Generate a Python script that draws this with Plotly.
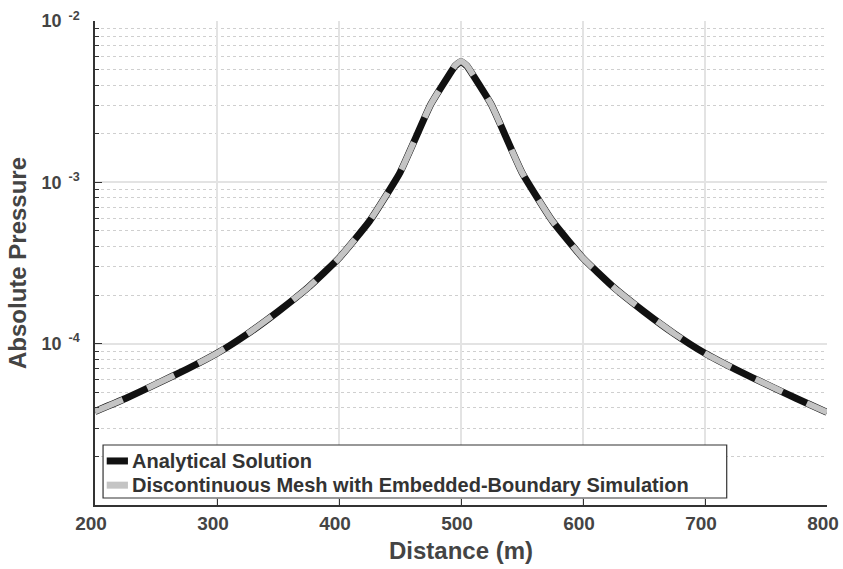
import plotly.graph_objects as go

distance = [200, 225, 250, 275, 300, 325, 350, 375, 400, 425, 450, 475, 490, 495, 500,
            505, 510, 525, 550, 575, 600, 625, 650, 675, 700, 725, 750, 775, 800]
analytical = [3.80e-5, 4.57e-5, 5.62e-5, 6.92e-5, 8.71e-5, 1.15e-4, 1.58e-4, 2.24e-4,
              3.39e-4, 5.75e-4, 1.15e-3, 3.02e-3, 4.60e-3, 5.25e-3, 5.62e-3,
              5.25e-3, 4.60e-3, 3.02e-3, 1.15e-3, 5.75e-4, 3.39e-4, 2.24e-4, 1.58e-4, 1.15e-4,
              8.71e-5, 6.92e-5, 5.62e-5, 4.57e-5, 3.75e-5]
simulation = [3.80e-5, 4.57e-5, 5.62e-5, 6.92e-5, 8.71e-5, 1.15e-4, 1.58e-4, 2.24e-4,
              3.39e-4, 5.75e-4, 1.15e-3, 3.02e-3, 4.62e-3, 5.28e-3, 5.66e-3,
              5.28e-3, 4.62e-3, 3.02e-3, 1.15e-3, 5.75e-4, 3.39e-4, 2.24e-4, 1.58e-4, 1.15e-4,
              8.71e-5, 6.92e-5, 5.62e-5, 4.57e-5, 3.75e-5]
x_ticks = [200, 300, 400, 500, 600, 700, 800]
y_ticks = [1e-4, 1e-3, 1e-2]
y_ticktext = ["10<sup>  -4</sup>", "10<sup>  -3</sup>", "10<sup>  -2</sup>"]
y_minor = [m * 10.0 ** e for e in (-5, -4, -3) for m in range(2, 10)]
legend_names = ["Analytical Solution", "Discontinuous Mesh with Embedded-Boundary Simulation"]

FONT = "Liberation Sans, Arial, sans-serif"
TXT = "#444444"

fig = go.Figure()
fig.add_trace(go.Scatter(x=distance, y=analytical, mode="lines",
                         line=dict(color="#111111", width=7, shape="spline", smoothing=0.4),
                         name=legend_names[0]))
fig.add_trace(go.Scatter(x=distance, y=simulation, mode="lines",
                         line=dict(color="#c4c4c4", width=6, dash="30px,27px",
                                   shape="spline", smoothing=0.4),
                         name=legend_names[1]))

fig.update_layout(
    width=843, height=569,
    margin=dict(l=95, r=16, t=21, b=64),
    plot_bgcolor="white", paper_bgcolor="white",
    showlegend=False,
    font=dict(family=FONT, color=TXT),
)
fig.update_xaxes(
    range=[200, 800], tickvals=x_ticks, automargin=False,
    ticklabeloverflow="allow", ticklabelshift=-4,
    showline=True, linecolor="#333333", linewidth=1.5,
    ticks="inside", ticklen=6, tickcolor="#333333",
    showgrid=True, gridcolor="#e3e3e3", gridwidth=1.5,
    zeroline=False,
    tickfont=dict(family=FONT, size=19, color=TXT, weight="bold"),
    title=dict(text="Distance (m)", font=dict(family=FONT, size=24, color=TXT, weight="bold"),
               standoff=10),
)
fig.update_yaxes(
    type="log", range=[-5, -2], automargin=False,
    ticklabeloverflow="allow", ticklabelstandoff=10,
    tickmode="array", tickvals=y_ticks, ticktext=y_ticktext,
    showline=True, linecolor="#333333", linewidth=1.5,
    ticks="inside", ticklen=7, tickcolor="#333333",
    showgrid=True, gridcolor="#e3e3e3", gridwidth=1.5,
    zeroline=False,
    minor=dict(tickmode="array", tickvals=y_minor, ticks="inside", ticklen=4,
               tickcolor="#333333", showgrid=True, gridcolor="#cfcfcf", griddash="dot",
               gridwidth=1.2),
    tickfont=dict(family=FONT, size=18, color=TXT, weight="bold"),
    title=dict(text="Absolute Pressure", font=dict(family=FONT, size=24, color=TXT, weight="bold"),
               standoff=8),
)

# Manual legend box
fig.add_shape(type="rect", xref="paper", yref="paper", x0=0.011, x1=0.863, y0=0.0145, y1=0.124,
              line=dict(color="#333333", width=1.2), fillcolor="white", layer="above")
fig.add_shape(type="line", xref="paper", yref="paper", x0=0.016, x1=0.045, y0=0.091, y1=0.091,
              line=dict(color="#111111", width=7), layer="above")
fig.add_shape(type="line", xref="paper", yref="paper", x0=0.016, x1=0.045, y0=0.041, y1=0.041,
              line=dict(color="#c4c4c4", width=7), layer="above")
fig.add_annotation(xref="paper", yref="paper", x=0.0475, y=0.091, text=legend_names[0],
                   showarrow=False, xanchor="left", yanchor="middle",
                   font=dict(family=FONT, size=20, color="#333333", weight="bold"))
fig.add_annotation(xref="paper", yref="paper", x=0.0475, y=0.041, text=legend_names[1],
                   showarrow=False, xanchor="left", yanchor="middle",
                   font=dict(family=FONT, size=20, color="#333333", weight="bold"))

fig.write_html("out.html", config={"displayModeBar": False},
               post_script="document.body.style.margin='0';")
